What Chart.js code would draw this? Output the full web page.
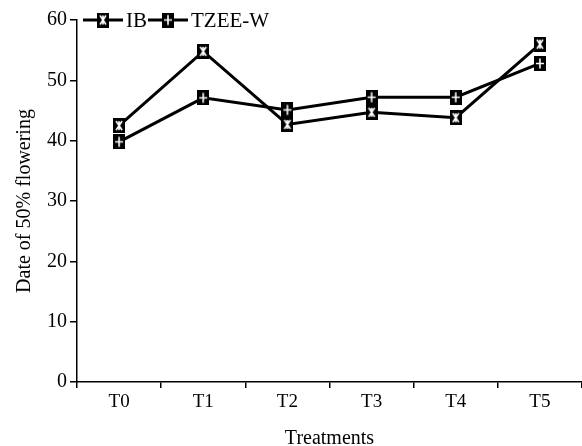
<!DOCTYPE html>
<html>
<head>
<meta charset="utf-8">
<script src="https://cdn.jsdelivr.net/npm/chart.js@4.4.1/dist/chart.umd.min.js"></script>
<style>
  body { margin: 0; background: #fff; }
</style>
</head>
<body>
<canvas id="floweringChart" width="582" height="446"></canvas>
<script>
// chart data
const treatments = ['T0', 'T1', 'T2', 'T3', 'T4', 'T5'];
const ibValues = [42.5, 54.8, 42.7, 44.7, 43.8, 56];
const tzeeValues = [39.8, 47.1, 45.1, 47.2, 47.2, 52.8];
const seriesNames = ['IB', 'TZEE-W'];
const yTicks = [0, 10, 20, 30, 40, 50, 60];

const serif = "'Liberation Serif', 'Times New Roman', serif";

// black box markers with a white glyph
function makeMarker(kind) {
    const c = document.createElement('canvas');
    c.width = 12;
    c.height = 15;
    const g = c.getContext('2d');
    g.fillStyle = '#000';
    g.fillRect(0, 0, 12, 15);
    g.strokeStyle = '#fff';
    g.lineWidth = 1.6;
    g.beginPath();
    if (kind === 'x') {
        g.moveTo(3, 3); g.lineTo(9, 12);
        g.moveTo(9, 3); g.lineTo(3, 12);
        g.moveTo(6, 3); g.lineTo(6, 12);
    } else {
        g.moveTo(6, 2.5); g.lineTo(6, 12.5);
        g.moveTo(2, 7.5); g.lineTo(10, 7.5);
    }
    g.stroke();
    return c;
}

const markers = [makeMarker('x'), makeMarker('plus')];

// legend drawn over the top of the plot, like the original
const lineLegend = {
    id: 'lineLegend',
    afterDraw(chart) {
        const ctx = chart.ctx;
        let x = 83;
        const y = 20;
        ctx.save();
        ctx.font = '21px ' + serif;
        ctx.textBaseline = 'middle';
        ctx.fillStyle = '#000';
        chart.data.datasets.forEach((ds, i) => {
            ctx.strokeStyle = '#000';
            ctx.lineWidth = 3;
            ctx.beginPath();
            ctx.moveTo(x, y);
            ctx.lineTo(x + 40, y);
            ctx.stroke();
            const m = markers[i];
            ctx.drawImage(m, x + 20 - m.width / 2, y - m.height / 2);
            ctx.fillText(ds.label, x + 43, y + 1);
            x += 43 + ctx.measureText(ds.label).width + 1;
        });
        ctx.restore();
    }
};

new Chart(document.getElementById('floweringChart'), {
    type: 'line',
    data: {
        labels: treatments,
        datasets: [{
            label: seriesNames[0],
            data: ibValues,
            borderColor: '#000',
            borderWidth: 3,
            pointStyle: markers[0],
            tension: 0,
        }, {
            label: seriesNames[1],
            data: tzeeValues,
            borderColor: '#000',
            borderWidth: 3,
            pointStyle: markers[1],
            tension: 0,
        }],
    },
    options: {
        responsive: false,
        animation: false,
        layout: { autoPadding: false, padding: { top: 20, right: 0, left: 0, bottom: 0 } },
        plugins: {
            legend: { display: false },
            tooltip: { enabled: false },
        },
        scales: {
            x: {
                offset: true,
                afterFit: (scale) => {
                    scale.height = 64;
                    scale.paddingLeft = 0;
                    scale.paddingRight = 0;
                },
                grid: {
                    offset: true,
                    drawOnChartArea: false,
                    drawTicks: true,
                    tickLength: 6,
                    color: '#000',
                    lineWidth: 1.5,
                },
                border: { color: '#000', width: 1.5 },
                ticks: {
                    color: '#000',
                    padding: 3,
                    font: { family: serif, size: 19 },
                },
                title: {
                    display: true,
                    text: 'Treatments',
                    color: '#000',
                    padding: 0,
                    font: { family: serif, size: 20, lineHeight: 0.7 },
                },
            },
            y: {
                min: 0,
                max: 60,
                afterFit: (scale) => { scale.width = 77; },
                afterBuildTicks: (scale) => { scale.ticks = yTicks.map(v => ({ value: v })); },
                grid: {
                    drawOnChartArea: false,
                    drawTicks: true,
                    tickLength: 7,
                    color: '#000',
                    lineWidth: 1.5,
                },
                border: { color: '#000', width: 1.5 },
                ticks: {
                    color: '#000',
                    padding: 3,
                    font: { family: serif, size: 20 },
                },
                title: {
                    display: true,
                    text: 'Date of 50% flowering',
                    color: '#000',
                    padding: { top: 13 },
                    font: { family: serif, size: 20 },
                },
            },
        },
    },
    plugins: [lineLegend],
});
</script>
</body>
</html>
